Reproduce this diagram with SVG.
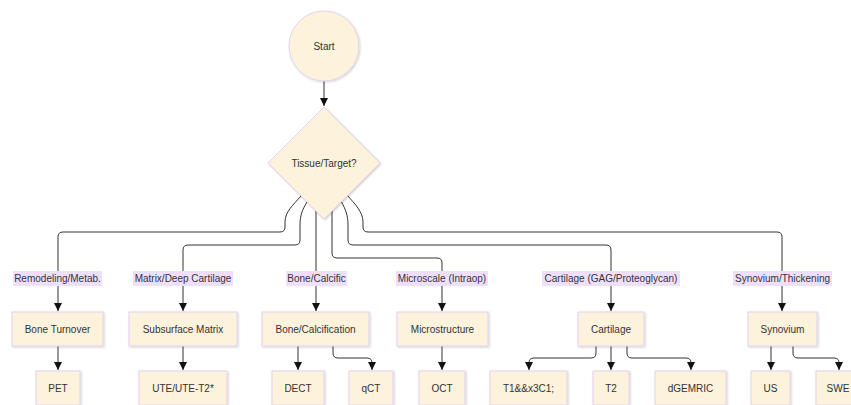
<svg xmlns="http://www.w3.org/2000/svg" width="851" height="405" viewBox="0 0 851 405">
<style>
.n{fill:#fdf2dc;stroke:#e2d2f2;stroke-width:1;filter:url(#sh)}
.t{font-family:"Liberation Sans",Arial,sans-serif;font-size:10px;fill:#333;text-anchor:middle;dominant-baseline:central}
.e{fill:none;stroke:#333;stroke-width:1;marker-end:url(#ah)}
.lb{fill:#efdffd}
</style>
<defs>
<filter id="sh" x="-20%" y="-20%" width="140%" height="140%"><feDropShadow dx="1" dy="1" stdDeviation="0.8" flood-color="#000" flood-opacity="0.18"/></filter>
<marker id="ah" viewBox="0 0 10 10" refX="10" refY="5" markerUnits="userSpaceOnUse" markerWidth="8" markerHeight="8" orient="auto"><path d="M0,0 L10,5 L0,10 z" fill="#111"/></marker>
</defs>
<g id="connectors">
<path class="e" d="M324,81 L324,106"/>
<path class="e" d="M301,196 C293,205 285,212 285,222 L285,227 Q285,232 280,232 L63,232 Q58,232 58,237 L58,311"/>
<path class="e" d="M307,202 C302,210 300,216 300,225 L300,240 Q300,245 295,245 L188,245 Q183,245 183,250 L183,311"/>
<path class="e" d="M316,210 L316,311"/>
<path class="e" d="M332,210 L332,253 Q332,258 337,258 L437,258 Q442,258 442,263 L442,311"/>
<path class="e" d="M341,201 C346,210 348,216 348,225 L348,240 Q348,245 353,245 L606,245 Q611,245 611,250 L611,311"/>
<path class="e" d="M347,195 C355,204 363,212 363,222 L363,227 Q363,232 368,232 L777,232 Q782,232 782,237 L782,311"/>
<path class="e" d="M58,346 L58,370"/>
<path class="e" d="M183,346 L183,370"/>
<path class="e" d="M298,346 L298,370"/>
<path class="e" d="M333,346 L333,353 Q333,358 338,358 L367,358 Q372,358 372,363 L372,370"/>
<path class="e" d="M442,346 L442,370"/>
<path class="e" d="M596,346 L596,353 Q596,358 591,358 L534,358 Q529,358 529,363 L529,370"/>
<path class="e" d="M611,346 L611,370"/>
<path class="e" d="M627,346 L627,353 Q627,358 632,358 L686,358 Q691,358 691,363 L691,370"/>
<path class="e" d="M771,346 L771,370"/>
<path class="e" d="M793,346 L793,353 Q793,358 798,358 L834,358 Q839,358 839,363 L839,370"/>
</g>
<g id="edge-labels">
<rect class="lb" x="13" y="271" width="89" height="15"/><text class="t" x="57.5" y="278.5">Remodeling/Metab.</text>
<rect class="lb" x="133" y="271" width="100" height="15"/><text class="t" x="183" y="278.5">Matrix/Deep Cartilage</text>
<rect class="lb" x="286" y="271" width="61" height="15"/><text class="t" x="316.5" y="278.5">Bone/Calcific</text>
<rect class="lb" x="396" y="271" width="92" height="15"/><text class="t" x="442" y="278.5">Microscale (Intraop)</text>
<rect class="lb" x="542" y="271" width="138" height="15"/><text class="t" x="611" y="278.5">Cartilage (GAG/Proteoglycan)</text>
<rect class="lb" x="733" y="271" width="99" height="15"/><text class="t" x="782.5" y="278.5">Synovium/Thickening</text>
</g>
<g id="start"><circle class="n" cx="324" cy="46" r="35"/><text class="t" x="324" y="46">Start</text></g>
<g id="tissue"><polygon class="n" points="324,107 380,163 324,219 268,163"/><text class="t" x="324" y="163">Tissue/Target?</text></g>
<g id="bone-turnover"><rect class="n" x="12" y="312" width="91" height="34"/><text class="t" x="57.5" y="329">Bone Turnover</text></g>
<g id="subsurface-matrix"><rect class="n" x="129" y="312" width="108" height="34"/><text class="t" x="183" y="329">Subsurface Matrix</text></g>
<g id="bone-calcification"><rect class="n" x="262" y="312" width="107" height="34"/><text class="t" x="315.5" y="329">Bone/Calcification</text></g>
<g id="microstructure"><rect class="n" x="397" y="312" width="91" height="34"/><text class="t" x="442.5" y="329">Microstructure</text></g>
<g id="cartilage"><rect class="n" x="578" y="312" width="66" height="34"/><text class="t" x="611" y="329">Cartilage</text></g>
<g id="synovium"><rect class="n" x="748" y="312" width="69" height="34"/><text class="t" x="782.5" y="329">Synovium</text></g>
<g id="pet"><rect class="n" x="36" y="371" width="44" height="34"/><text class="t" x="58" y="388">PET</text></g>
<g id="ute"><rect class="n" x="139" y="371" width="88" height="34"/><text class="t" x="183" y="388">UTE/UTE-T2*</text></g>
<g id="dect"><rect class="n" x="272" y="371" width="52" height="34"/><text class="t" x="298" y="388">DECT</text></g>
<g id="qct"><rect class="n" x="349" y="371" width="44" height="34"/><text class="t" x="371" y="388">qCT</text></g>
<g id="oct"><rect class="n" x="419" y="371" width="46" height="34"/><text class="t" x="442" y="388">OCT</text></g>
<g id="t1rho"><rect class="n" x="490" y="371" width="77" height="34"/><text class="t" x="528.5" y="388">T1&amp;&amp;x3C1;</text></g>
<g id="t2"><rect class="n" x="593" y="371" width="36" height="34"/><text class="t" x="611" y="388">T2</text></g>
<g id="dgemric"><rect class="n" x="655" y="371" width="71" height="34"/><text class="t" x="690.5" y="388">dGEMRIC</text></g>
<g id="us"><rect class="n" x="751" y="371" width="39" height="34"/><text class="t" x="770.5" y="388">US</text></g>
<g id="swe"><rect class="n" x="816" y="371" width="44" height="34"/><text class="t" x="838" y="388">SWE</text></g>
</svg>
